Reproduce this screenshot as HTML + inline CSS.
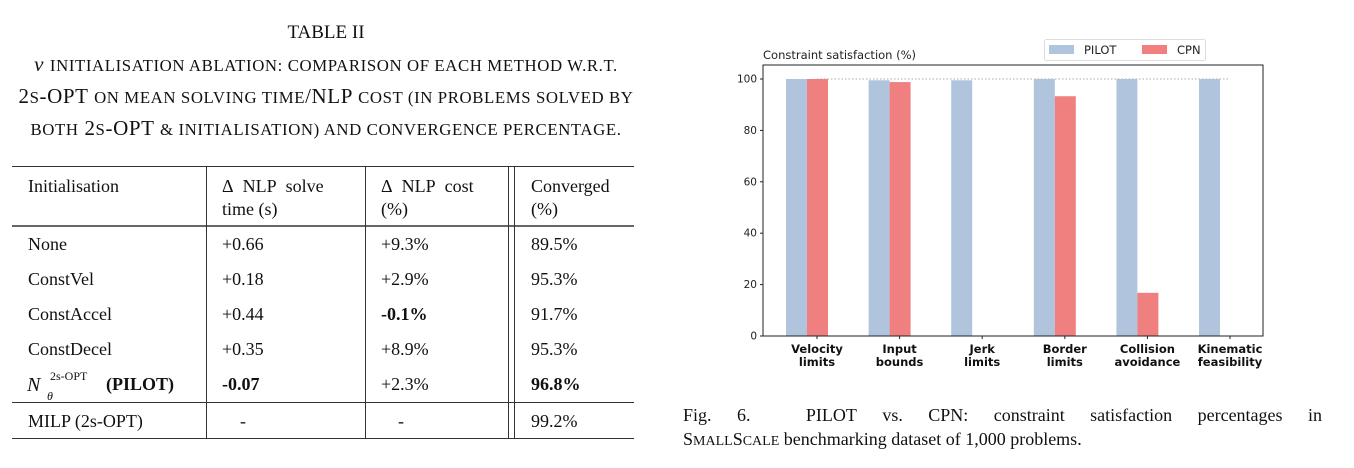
<!DOCTYPE html>
<html><head><meta charset="utf-8">
<style>
body{margin:0;width:1354px;height:468px;background:#fff;position:relative;overflow:hidden;font-family:"Liberation Serif",serif;color:#111}
.a{position:absolute;white-space:nowrap}
.t{font-size:18px;line-height:18px}
.s{font-size:16.8px;text-transform:uppercase}
.cl{font-size:21px;line-height:30px;letter-spacing:0.6px}
.hl{position:absolute;background:#333}
.vl{position:absolute;width:1px;background:#333}
</style></head><body>
<div class="a" style="left:0;width:652px;text-align:center;top:22px;font-size:19px">TABLE II</div>
<div class="a" style="left:0;width:652px;text-align:center;top:49px">
<div class="cl"><i>ν</i> <span class="s">initialisation ablation: comparison of each method w.r.t.</span></div>
<div class="cl">2<span class="s">s</span>-OPT <span class="s">on mean solving time</span>/NLP <span class="s">cost (in problems solved by</span></div>
<div class="cl"><span class="s">both</span> 2<span class="s">s</span>-OPT <span class="s">&amp; initialisation) and convergence percentage.</span></div>
</div>

<div>
<div class="hl" style="left:12px;width:622px;top:166px;height:1px"></div>
<div class="hl" style="left:12px;width:622px;top:225px;height:2px;background:#666"></div>
<div class="hl" style="left:12px;width:622px;top:402px;height:1px"></div>
<div class="hl" style="left:12px;width:622px;top:438px;height:1px"></div>
<div class="vl" style="left:206px;top:166px;height:272px"></div>
<div class="vl" style="left:365px;top:166px;height:272px"></div>
<div class="vl" style="left:508px;top:166px;height:272px"></div>
<div class="vl" style="left:514px;top:166px;height:272px"></div>
<div class="a t" style="left:28px;top:177px">Initialisation</div>
<div class="a t" style="left:222px;top:177px">Δ&nbsp; NLP&nbsp; solve<br><span style="line-height:28px">time (s)</span></div>
<div class="a t" style="left:381px;top:177px">Δ&nbsp; NLP&nbsp; cost<br><span style="line-height:28px">(%)</span></div>
<div class="a t" style="left:531px;top:177px">Converged<br><span style="line-height:28px">(%)</span></div>

<div class="a t" style="left:28px;top:235px">None</div><div class="a t" style="left:222px;top:235px">+0.66</div><div class="a t" style="left:381px;top:235px">+9.3%</div><div class="a t" style="left:531px;top:235px">89.5%</div>
<div class="a t" style="left:28px;top:270px">ConstVel</div><div class="a t" style="left:222px;top:270px">+0.18</div><div class="a t" style="left:381px;top:270px">+2.9%</div><div class="a t" style="left:531px;top:270px">95.3%</div>
<div class="a t" style="left:28px;top:305px">ConstAccel</div><div class="a t" style="left:222px;top:305px">+0.44</div><div class="a t" style="left:381px;top:305px"><b>-0.1%</b></div><div class="a t" style="left:531px;top:305px">91.7%</div>
<div class="a t" style="left:28px;top:340px">ConstDecel</div><div class="a t" style="left:222px;top:340px">+0.35</div><div class="a t" style="left:381px;top:340px">+8.9%</div><div class="a t" style="left:531px;top:340px">95.3%</div>
<div class="a t" style="left:27px;top:376px;font-size:20px"><i>N</i></div>
<div class="a" style="left:47px;top:389px;font-size:12px"><i>θ</i></div>
<div class="a" style="left:50px;top:369px;font-size:12px">2s-OPT</div>
<div class="a t" style="left:106px;top:375px"><b>(PILOT)</b></div>
<div class="a t" style="left:222px;top:375px"><b>-0.07</b></div><div class="a t" style="left:381px;top:375px">+2.3%</div><div class="a t" style="left:531px;top:375px"><b>96.8%</b></div>
<div class="a t" style="left:28px;top:412px">MILP (2s-OPT)</div><div class="a t" style="left:240px;top:412px">-</div><div class="a t" style="left:398px;top:412px">-</div><div class="a t" style="left:531px;top:412px">99.2%</div>
</div>

<svg id="chart" class="a" style="left:0;top:0" width="1354" height="468" font-family="'DejaVu Sans',sans-serif"></svg>

<div class="a" style="left:683px;top:403px;width:639px;font-size:18px;line-height:24px">
<div style="display:flex;justify-content:space-between"><span>Fig.</span><span>6.</span><span style="margin-left:30px">PILOT</span><span>vs.</span><span>CPN:</span><span>constraint</span><span>satisfaction</span><span>percentages</span><span>in</span></div>
<div>S<span style="font-size:14px">MALL</span>S<span style="font-size:14px">CALE</span> benchmarking dataset of 1,000 problems.</div>
</div>

<script>
const categories=[["Velocity","limits"],["Input","bounds"],["Jerk","limits"],["Border","limits"],["Collision","avoidance"],["Kinematic","feasibility"]];
const pilot=[100,99.5,99.5,100,100,100];
const cpn=[100,98.8,0,93.3,16.8,0];
const yTicks=[0,20,40,60,80,100];
const svg=document.getElementById('chart');
const NS='http://www.w3.org/2000/svg';
const X0=763,X1=1263,Y0=336,YT=65;
const y=v=>Y0-v*2.57;
const x=i=>817+i*82.6;
function mk(t,a,txt){const e=document.createElementNS(NS,t);for(const k in a)e.setAttribute(k,a[k]);if(txt!==undefined)e.textContent=txt;svg.appendChild(e);return e;}
let e=mk('line',{x1:x(0),x2:x(5),y1:y(100),y2:y(100),stroke:'#aaa','stroke-dasharray':'1.5 2','stroke-width':1});


pilot.forEach((v,i)=>{const b=mk('rect',{x:x(i)-31,y:y(v),width:21,height:Y0-y(v),fill:'#b0c4de'});

});
cpn.forEach((v,i)=>{const b=mk('rect',{x:x(i)-10,y:y(v),width:21,height:Y0-y(v),fill:'#f08080'});

});
e=mk('rect',{x:X0,y:YT,width:X1-X0,height:Y0-YT,fill:'none',stroke:'#222','stroke-width':1});


yTicks.forEach(v=>{mk('line',{x1:X0-3,x2:X0,y1:y(v),y2:y(v),stroke:'#222'});
const t=mk('text',{x:X0-6,y:y(v)+3.5,'font-size':10.5,'text-anchor':'end',fill:'#222'},v);

});
categories.forEach((c,i)=>{mk('line',{x1:x(i),x2:x(i),y1:Y0,y2:Y0+3,stroke:'#222'});
const t=mk('text',{x:x(i),y:Y0+17,'font-size':11.5,'font-weight':'bold','text-anchor':'middle',fill:'#111'},c[0]);


mk('text',{x:x(i),y:Y0+30,'font-size':11.5,'font-weight':'bold','text-anchor':'middle',fill:'#111'},c[1]);});
e=mk('text',{x:X0,y:59,'font-size':11.5,fill:'#222'},'Constraint satisfaction (%)');


e=mk('rect',{x:1044.5,y:39.5,width:161,height:21,rx:2,fill:'#fff',stroke:'#ddd'});


mk('rect',{x:1049,y:45,width:25,height:9,fill:'#b0c4de'});
e=mk('text',{x:1084,y:54,'font-size':11.5,fill:'#222'},'PILOT');


mk('rect',{x:1142,y:45,width:25,height:9,fill:'#f08080'});
e=mk('text',{x:1177,y:54,'font-size':11.5,fill:'#222'},'CPN');


</script>
</body></html>
